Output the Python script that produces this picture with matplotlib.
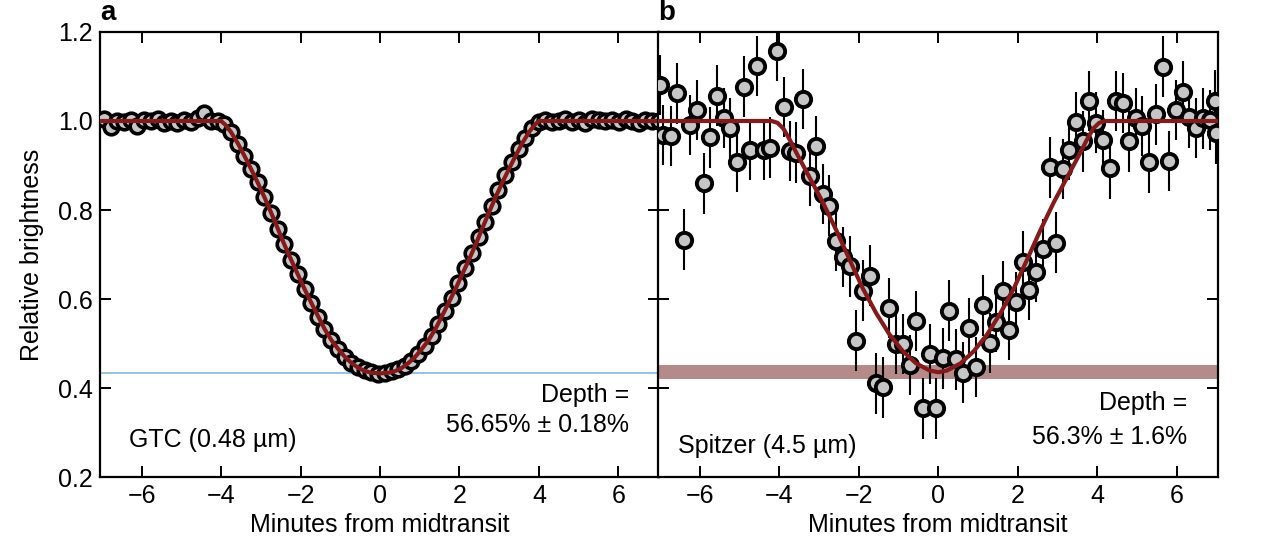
import matplotlib
matplotlib.use("Agg")
import matplotlib.pyplot as plt

plt.rcParams['font.family'] = ['Liberation Sans', 'DejaVu Sans']

# ---------------- Panel a: GTC (0.48 um) ----------------
time_a = [-6.95, -6.78, -6.61, -6.45, -6.28, -6.11, -5.94, -5.77, -5.60, -5.44,
          -5.27, -5.10, -4.93, -4.76, -4.59, -4.43, -4.26, -4.09, -3.92, -3.75,
          -3.58, -3.42, -3.25, -3.08, -2.91, -2.74, -2.57, -2.41, -2.24, -2.07,
          -1.90, -1.73, -1.56, -1.40, -1.23, -1.06, -0.89, -0.72, -0.55, -0.39,
          -0.22, -0.05, 0.12, 0.29, 0.46, 0.62, 0.79, 0.96, 1.13, 1.30,
          1.47, 1.63, 1.80, 1.97, 2.14, 2.31, 2.48, 2.64, 2.81, 2.98,
          3.15, 3.32, 3.49, 3.65, 3.82, 3.99, 4.16, 4.33, 4.50, 4.66,
          4.83, 5.00, 5.17, 5.34, 5.51, 5.67, 5.84, 6.01, 6.18, 6.35,
          6.52, 6.68, 6.85, 7.02]
flux_a = [1.004, 0.986, 1.001, 0.998, 1.003, 0.988, 1.002, 0.999, 1.004, 0.996,
          1.001, 0.995, 1.003, 0.998, 1.006, 1.018, 1.001, 0.999, 0.993, 0.975,
          0.948, 0.922, 0.893, 0.862, 0.829, 0.794, 0.757, 0.723, 0.688, 0.656,
          0.622, 0.591, 0.561, 0.533, 0.508, 0.488, 0.470, 0.457, 0.447, 0.440,
          0.436, 0.433, 0.434, 0.438, 0.443, 0.451, 0.462, 0.476, 0.495, 0.517,
          0.545, 0.573, 0.603, 0.636, 0.669, 0.703, 0.739, 0.773, 0.809, 0.845,
          0.878, 0.909, 0.937, 0.962, 0.984, 0.998, 1.003, 0.997, 1.001, 1.004,
          0.998, 1.002, 0.996, 1.005, 1.003, 0.999, 1.002, 0.997, 1.004, 1.000,
          0.996, 1.003, 1.001, 0.999]
model_t_a = [-7.05, -4.00, -3.90, -3.75, -3.58, -3.42, -3.25, -3.08, -2.91, -2.74,
             -2.57, -2.41, -2.24, -2.07, -1.90, -1.73, -1.56, -1.40, -1.23, -1.06,
             -0.89, -0.72, -0.55, -0.39, -0.22, 0.00, 0.22, 0.39, 0.55, 0.72,
             0.89, 1.06, 1.23, 1.40, 1.56, 1.73, 1.90, 2.07, 2.24, 2.41,
             2.57, 2.74, 2.91, 3.08, 3.25, 3.42, 3.58, 3.75, 3.90, 4.00, 7.05]
model_f_a = [1.000, 1.000, 0.992, 0.975, 0.950, 0.923, 0.893, 0.862, 0.829, 0.794,
             0.758, 0.723, 0.689, 0.656, 0.623, 0.592, 0.562, 0.534, 0.509, 0.489,
             0.471, 0.457, 0.446, 0.439, 0.435, 0.4335, 0.435, 0.439, 0.446, 0.457,
             0.471, 0.489, 0.509, 0.534, 0.562, 0.592, 0.623, 0.656, 0.689, 0.723,
             0.758, 0.794, 0.829, 0.862, 0.893, 0.923, 0.950, 0.975, 0.992, 1.000, 1.000]
depth_level_a = 0.4335

# ---------------- Panel b: Spitzer (4.5 um) ----------------
time_b = [-7.00, -6.93, -6.74, -6.58, -6.41, -6.24, -6.08, -5.91, -5.74, -5.57,
          -5.40, -5.24, -5.07, -4.90, -4.73, -4.57, -4.40, -4.23, -4.06, -3.89,
          -3.74, -3.57, -3.41, -3.24, -3.07, -2.91, -2.74, -2.57, -2.40, -2.23,
          -2.07, -1.90, -1.73, -1.56, -1.40, -1.23, -1.06, -0.89, -0.72, -0.56,
          -0.39, -0.22, -0.05, 0.11, 0.28, 0.45, 0.62, 0.78, 0.95, 1.12,
          1.29, 1.46, 1.62, 1.79, 1.96, 2.13, 2.29, 2.46, 2.63, 2.80,
          2.97, 3.13, 3.30, 3.47, 3.64, 3.80, 3.97, 4.14, 4.31, 4.48,
          4.64, 4.81, 4.98, 5.14, 5.31, 5.48, 5.65, 5.81, 5.98, 6.15,
          6.32, 6.49, 6.66, 6.83, 6.96, 7.00]
flux_b = [1.081, 0.969, 0.966, 1.062, 0.734, 0.991, 1.025, 0.860, 0.963, 1.057,
          1.007, 0.984, 0.909, 1.077, 0.936, 1.123, 0.935, 0.940, 1.157, 1.031,
          0.933, 0.929, 1.049, 0.877, 0.944, 0.836, 0.810, 0.731, 0.695, 0.674,
          0.507, 0.619, 0.653, 0.411, 0.402, 0.580, 0.499, 0.499, 0.452, 0.551,
          0.355, 0.477, 0.355, 0.467, 0.574, 0.465, 0.435, 0.535, 0.448, 0.586,
          0.502, 0.549, 0.618, 0.531, 0.594, 0.684, 0.621, 0.661, 0.713, 0.896,
          0.727, 0.892, 0.936, 0.998, 0.954, 1.045, 0.996, 0.957, 0.894, 1.045,
          1.040, 0.954, 1.007, 0.989, 0.907, 1.015, 1.122, 0.910, 1.025, 1.066,
          1.008, 0.984, 1.006, 1.002, 1.046, 0.972]
err_b = 0.068
model_t_b = [-7.05, -4.20, -4.05, -3.90, -3.74, -3.57, -3.24, -2.91, -2.57, -2.23,
             -1.90, -1.56, -1.23, -0.89, -0.56, -0.22, 0.00, 0.22, 0.56, 0.89,
             1.23, 1.56, 1.90, 2.23, 2.57, 2.91, 3.24, 3.57, 3.74, 3.90,
             4.05, 4.20, 7.05]
model_f_b = [1.000, 1.000, 0.996, 0.983, 0.958, 0.928, 0.873, 0.818, 0.755, 0.688,
             0.624, 0.568, 0.521, 0.483, 0.456, 0.440, 0.436, 0.440, 0.456, 0.483,
             0.521, 0.568, 0.624, 0.688, 0.755, 0.818, 0.873, 0.928, 0.958, 0.983,
             0.996, 1.000, 1.000]
depth_b = 0.437
depth_err_b = 0.016

xticks = [-6, -4, -2, 0, 2, 4, 6]
yticks = [0.2, 0.4, 0.6, 0.8, 1.0, 1.2]

RED = '#861a1a'
FACE = '#c6c6c6'
FS = 18

fig = plt.figure(figsize=(12.62, 5.36), dpi=100)
ax_a = fig.add_axes([0.0792, 0.1093, 0.4432, 0.8312])
ax_b = fig.add_axes([0.5216, 0.1093, 0.4432, 0.8312])

for ax in (ax_a, ax_b):
    ax.set_xlim(-7.05, 7.03)
    ax.set_ylim(0.2, 1.2)
    ax.set_xticks(xticks)
    ax.set_xticklabels(['\u2212%d' % -t if t < 0 else '%d' % t for t in xticks])
    ax.set_yticks(yticks)
    ax.tick_params(direction='in', length=8, width=1.4, top=True, right=True,
                   labelsize=FS, pad=5)
    for s in ax.spines.values():
        s.set_linewidth(1.6)
    ax.set_xlabel('Minutes from midtransit', fontsize=FS, labelpad=3)

ax_a.set_yticklabels(['%.1f' % v for v in yticks])
ax_a.tick_params(axis='y', pad=5)
ax_b.set_yticklabels([])
ax_a.set_ylabel('Relative brightness', fontsize=FS, labelpad=10)

# Panel a
ax_a.axhline(depth_level_a, color='#86b7da', lw=1.2, zorder=1)
ax_a.plot(time_a, flux_a, 'o', ms=10.5, mfc=FACE, mec='black', mew=2.6, zorder=3)
ax_a.plot(model_t_a, model_f_a, '-', color=RED, lw=3.0, zorder=4)
ax_a.text(-6.33, 0.284, 'GTC (0.48 \u00b5m)', fontsize=FS, ha='left', va='center')
ax_a.text(6.28, 0.385, 'Depth =', fontsize=FS, ha='right', va='center')
ax_a.text(6.28, 0.318, '56.65% \u00b1 0.18%', fontsize=FS, ha='right', va='center')

# Panel b
ax_b.axhspan(depth_b - depth_err_b, depth_b + depth_err_b, color='#b48b88', lw=0, zorder=1)
ax_b.errorbar(time_b, flux_b, yerr=err_b, fmt='none', ecolor='black', elinewidth=1.5,
              capsize=0, zorder=2)
ax_b.plot(time_b, flux_b, 'o', ms=11, mfc=FACE, mec='black', mew=2.8, zorder=3)
ax_b.plot(model_t_b, model_f_b, '-', color=RED, lw=3.0, zorder=4)
ax_b.text(-6.56, 0.271, 'Spitzer (4.5 \u00b5m)', fontsize=FS, ha='left', va='center')
ax_b.text(6.26, 0.367, 'Depth =', fontsize=FS, ha='right', va='center')
ax_b.text(6.26, 0.291, '56.3% \u00b1 1.6%', fontsize=FS, ha='right', va='center')

fig.text(0.0792, 0.975, 'a', fontsize=20, fontweight='bold', ha='left', va='center')
fig.text(0.5216, 0.975, 'b', fontsize=20, fontweight='bold', ha='left', va='center')

fig.savefig('out.png', dpi=100)
